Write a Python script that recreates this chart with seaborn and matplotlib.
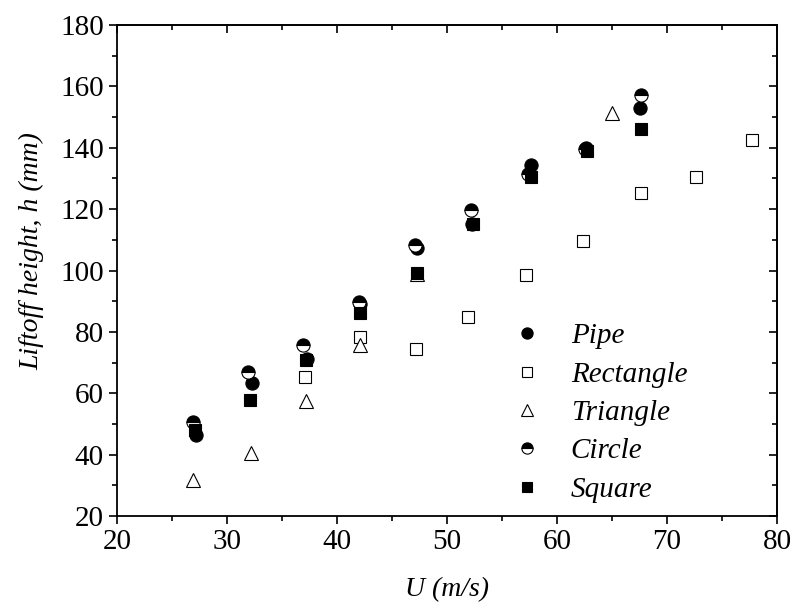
import numpy as np
import pandas as pd
import matplotlib
matplotlib.use("Agg")
import matplotlib.pyplot as plt
import seaborn as sns
from matplotlib.ticker import MultipleLocator

##### DATA #####
pipe_u = [27.2, 32.3, 37.3, 42.1, 47.3, 52.3, 57.6, 62.6, 67.5]
pipe_h = [46.4, 63.3, 71.2, 89.0, 107.5, 115.1, 134.5, 140.0, 153.0]

rect_u = [37.1, 42.1, 47.2, 51.9, 57.2, 62.4, 67.6, 72.6, 77.7]
rect_h = [65.3, 78.3, 74.4, 84.8, 98.5, 109.5, 125.2, 130.5, 142.5]

tri_u = [26.9, 32.2, 37.2, 42.1, 47.3, 65.0]
tri_h = [31.7, 40.5, 57.5, 75.7, 99.0, 151.3]

circ_u = [26.9, 31.9, 36.9, 42.0, 47.1, 52.2, 57.4, 62.5, 67.6]
circ_h = [50.6, 66.9, 75.7, 89.7, 108.3, 119.7, 131.5, 139.5, 157.2]

sq_u = [27.1, 32.1, 37.2, 42.1, 47.3, 52.4, 57.6, 62.7, 67.6]
sq_h = [48.0, 57.8, 71.0, 86.1, 99.2, 115.0, 130.5, 139.0, 146.1]

##### PLOT #####
sns.set_style("white")
plt.rcParams["font.family"] = ["Liberation Serif", "DejaVu Serif"]
plt.rcParams["text.color"] = "black"
plt.rcParams["axes.labelcolor"] = "black"
plt.rcParams["xtick.color"] = "black"
plt.rcParams["ytick.color"] = "black"

fig, ax = plt.subplots(figsize=(7.94, 6.11), dpi=100)
fig.subplots_adjust(left=0.1474, right=0.9786, bottom=0.1555, top=0.959)

common = dict(ax=ax, linestyle="", estimator=None, sort=False, color="black",
              markeredgecolor="black", markeredgewidth=0.8)

sns.lineplot(x=pipe_u, y=pipe_h, marker="o", markersize=9.5, label="Pipe", **common)
sns.lineplot(x=rect_u, y=rect_h, marker="s", markersize=8, markerfacecolor="white",
             label="Rectangle", **common)
sns.lineplot(x=tri_u, y=tri_h, marker="^", markersize=10, markerfacecolor="white",
             label="Triangle", **common)
sns.lineplot(x=circ_u, y=circ_h, marker="o", markersize=9.5, fillstyle="top",
             markerfacecoloralt="white", label="Circle", **common)
sns.lineplot(x=sq_u, y=sq_h, marker="s", markersize=8, label="Square", **common)

ax.set_xlim(20, 80)
ax.set_ylim(20, 180)
ax.xaxis.set_major_locator(MultipleLocator(10))
ax.xaxis.set_minor_locator(MultipleLocator(5))
ax.yaxis.set_major_locator(MultipleLocator(20))
ax.yaxis.set_minor_locator(MultipleLocator(10))

for s in ax.spines.values():
    s.set_color("black")
    s.set_linewidth(1.3)

ax.tick_params(which="both", bottom=True, left=True, top=False, right=False,
               direction="out", color="black", labelcolor="black", width=1.2,
               labelsize=21)
ax.tick_params(which="major", length=6)
ax.tick_params(which="minor", length=3.5)

# inward ticks on top and right
axt = ax.secondary_xaxis("top")
axt.xaxis.set_major_locator(MultipleLocator(10))
axt.xaxis.set_minor_locator(MultipleLocator(5))
axt.tick_params(which="both", direction="in", width=1.2, labeltop=False)
axt.tick_params(which="major", length=6)
axt.tick_params(which="minor", length=3.5)
axr = ax.secondary_yaxis("right")
axr.yaxis.set_major_locator(MultipleLocator(20))
axr.yaxis.set_minor_locator(MultipleLocator(10))
axr.tick_params(which="both", direction="in", width=1.2, labelright=False)
axr.tick_params(which="major", length=6)
axr.tick_params(which="minor", length=3.5)
axt.spines["top"].set_linewidth(1.3)
axr.spines["right"].set_linewidth(1.3)

ax.set_xlabel("U (m/s)", fontsize=20, style="italic", labelpad=16, color="black")
ax.set_ylabel("Liftoff height, h (mm)", fontsize=20, style="italic", color="black")
ax.yaxis.set_label_coords(-0.11, 0.54)

ax.legend(loc="center left", bbox_to_anchor=(0.555, 0.21), frameon=False,
          prop={"size": 21, "style": "italic"}, markerscale=0.85,
          handletextpad=0.9, labelspacing=0.41, handlelength=1.2,
          labelcolor="black")

fig.savefig("out.png", dpi=100)
